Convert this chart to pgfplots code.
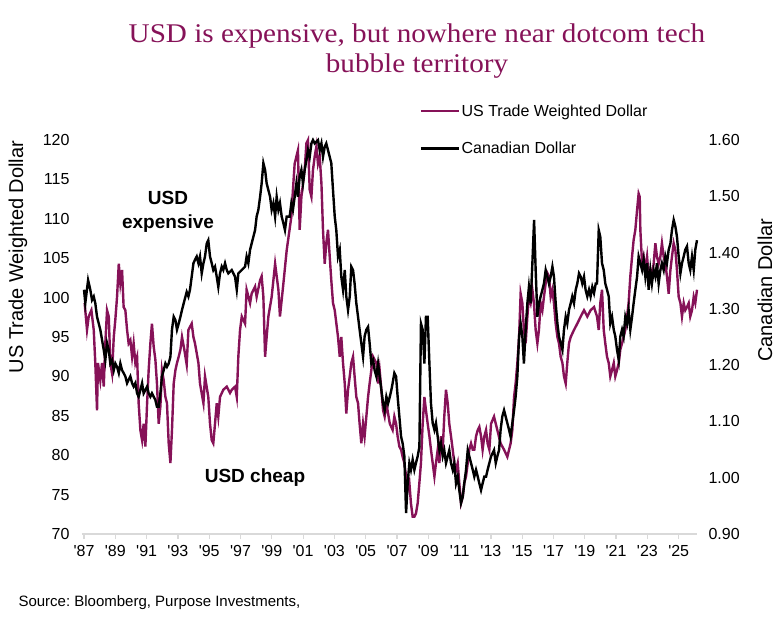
\documentclass[border=0pt]{standalone}
\usepackage{pgfplots}
\pgfplotsset{compat=1.18}
\usepackage{fontspec}
\setmainfont{Liberation Sans}
\newfontfamily\titlefont{Liberation Serif}[FakeStretch=1.08]
\definecolor{usdp}{RGB}{134,18,88}
\definecolor{axgray}{RGB}{217,217,217}
\frenchspacing
\pgfplotstableread{
x y
1987.04 99.3
1987.19 95.9
1987.30 97.6
1987.47 98.4
1987.62 95.9
1987.72 91.7
1987.83 85.7
1987.89 91.7
1988.04 89.5
1988.15 91.7
1988.26 88.7
1988.36 94.2
1988.47 98.4
1988.58 97.6
1988.68 91.7
1988.79 90.4
1988.90 95.0
1989.00 97.2
1989.11 100.1
1989.22 104.3
1989.32 101.8
1989.43 103.5
1989.53 98.8
1989.64 98.4
1989.75 95.9
1989.85 94.2
1989.96 94.6
1990.07 92.5
1990.17 94.2
1990.28 91.7
1990.39 92.5
1990.49 86.6
1990.60 83.2
1990.71 81.9
1990.81 84.0
1990.92 81.1
1991.03 86.6
1991.13 90.8
1991.24 94.2
1991.34 96.7
1991.45 93.8
1991.56 92.1
1991.66 89.1
1991.77 84.0
1991.88 86.2
1991.98 90.8
1992.09 89.5
1992.20 87.4
1992.30 86.6
1992.41 81.5
1992.52 79.0
1992.62 83.2
1992.73 89.1
1992.84 90.8
1992.94 91.7
1993.05 92.5
1993.16 93.4
1993.26 95.0
1993.40 93.5
1993.56 91.5
1993.67 95.9
1993.88 96.7
1993.99 95.0
1994.09 94.2
1994.31 91.7
1994.41 89.1
1994.63 86.6
1994.73 90.0
1994.94 87.4
1995.05 84.0
1995.16 81.9
1995.26 81.5
1995.37 84.0
1995.48 86.6
1995.58 84.9
1995.69 87.4
1995.90 88.3
1996.12 88.7
1996.33 87.9
1996.44 88.3
1996.65 88.7
1996.76 87.4
1996.86 92.5
1996.97 95.9
1997.08 97.6
1997.29 96.7
1997.39 101.0
1997.61 99.3
1997.71 100.5
1997.93 101.4
1998.03 100.1
1998.25 102.2
1998.35 102.7
1998.46 100.1
1998.57 92.5
1998.67 95.0
1998.78 97.6
1998.99 100.1
1999.21 104.3
1999.42 101.0
1999.52 97.6
1999.74 101.8
1999.95 106.0
2000.25 110.3
2000.35 113.7
2000.46 117.0
2000.67 118.7
2000.78 108.6
2000.89 112.8
2001.10 116.2
2001.21 119.6
2001.31 120.0
2001.42 113.7
2001.53 112.8
2001.63 116.2
2001.74 117.9
2001.85 119.2
2001.95 117.0
2002.06 117.9
2002.17 114.5
2002.27 108.6
2002.38 104.3
2002.48 106.9
2002.59 108.6
2002.70 105.2
2002.80 102.2
2002.91 99.3
2003.02 98.4
2003.23 95.0
2003.34 92.5
2003.44 95.0
2003.55 91.7
2003.66 89.1
2003.76 85.3
2003.87 88.3
2003.98 90.0
2004.08 91.7
2004.19 92.5
2004.29 90.0
2004.40 87.4
2004.51 86.6
2004.61 84.0
2004.72 81.5
2004.83 84.0
2004.93 82.4
2005.04 84.9
2005.15 87.4
2005.25 89.1
2005.36 90.8
2005.47 92.5
2005.57 92.1
2005.68 91.7
2005.79 89.1
2005.89 90.8
2006.00 88.3
2006.11 85.7
2006.21 84.9
2006.32 86.6
2006.43 85.3
2006.54 84.0
2006.72 83.2
2006.83 84.9
2006.94 84.0
2007.04 82.4
2007.15 81.1
2007.26 80.7
2007.36 79.8
2007.47 79.0
2007.58 77.3
2007.68 75.6
2007.79 76.5
2007.89 73.9
2008.00 72.2
2008.11 72.2
2008.21 72.6
2008.32 73.9
2008.43 76.5
2008.53 79.0
2008.64 84.0
2008.75 87.4
2008.85 85.7
2008.96 84.0
2009.07 82.4
2009.17 80.7
2009.28 79.0
2009.39 77.3
2009.49 79.0
2009.60 80.7
2009.71 79.0
2009.81 82.4
2009.92 80.7
2010.02 84.9
2010.13 88.3
2010.24 86.6
2010.34 84.0
2010.45 82.4
2010.56 80.7
2010.66 79.0
2010.77 78.1
2010.88 79.0
2010.98 76.5
2011.09 73.9
2011.20 74.7
2011.30 76.5
2011.41 77.3
2011.52 79.0
2011.62 80.7
2011.73 81.5
2011.84 80.7
2011.94 80.7
2012.05 82.4
2012.16 83.2
2012.26 83.6
2012.37 82.4
2012.47 80.7
2012.58 82.4
2012.69 83.2
2012.79 81.5
2012.90 80.7
2013.01 84.0
2013.20 84.9
2013.41 83.2
2013.62 81.5
2013.84 80.7
2014.05 79.8
2014.26 81.5
2014.37 83.2
2014.48 87.4
2014.58 89.1
2014.69 91.7
2014.80 95.0
2014.90 100.5
2015.01 99.3
2015.11 95.9
2015.22 94.2
2015.33 97.6
2015.43 100.1
2015.54 99.3
2015.65 101.0
2015.75 99.3
2015.86 95.9
2015.97 94.2
2016.07 95.9
2016.18 99.3
2016.29 98.4
2016.39 100.1
2016.50 101.8
2016.61 103.1
2016.71 102.7
2016.82 100.1
2016.93 101.0
2017.03 99.3
2017.14 96.7
2017.25 95.0
2017.35 94.2
2017.46 92.5
2017.57 91.7
2017.67 90.0
2017.78 89.1
2017.88 91.7
2017.99 94.2
2018.10 95.0
2018.31 95.9
2018.52 96.7
2018.74 97.6
2018.95 98.4
2019.16 97.6
2019.37 98.4
2019.59 98.8
2019.78 97.6
2019.89 95.9
2019.99 99.3
2020.10 101.0
2020.21 95.9
2020.31 94.2
2020.42 92.5
2020.53 91.7
2020.63 90.0
2020.74 90.8
2020.85 91.7
2020.95 90.0
2021.06 90.8
2021.17 91.7
2021.27 93.4
2021.38 94.2
2021.48 95.0
2021.59 95.9
2021.70 97.6
2021.80 99.3
2021.91 102.7
2022.02 105.2
2022.12 107.3
2022.23 108.6
2022.34 111.1
2022.44 113.2
2022.51 112.8
2022.55 108.6
2022.66 104.3
2022.76 105.2
2022.87 103.5
2022.98 105.2
2023.08 102.7
2023.19 103.5
2023.29 102.7
2023.40 104.3
2023.51 106.9
2023.61 105.2
2023.72 104.3
2023.83 105.2
2023.93 106.9
2024.04 105.2
2024.15 104.3
2024.25 102.7
2024.36 100.5
2024.47 103.5
2024.57 105.2
2024.68 106.9
2024.79 106.0
2024.89 103.5
2025.00 100.1
2025.11 99.3
2025.21 97.6
2025.32 99.3
2025.42 98.4
2025.53 98.8
2025.64 99.3
2025.74 97.6
2025.85 98.4
2025.96 100.1
2026.06 99.3
2026.17 101.0
}\usdtable
\pgfplotstableread{
x y
1987.00 1.334
1987.08 1.310
1987.26 1.351
1987.40 1.334
1987.51 1.316
1987.62 1.322
1987.72 1.310
1987.83 1.286
1987.94 1.274
1988.04 1.263
1988.15 1.245
1988.26 1.227
1988.36 1.209
1988.47 1.239
1988.58 1.227
1988.68 1.203
1988.79 1.209
1988.90 1.191
1989.00 1.203
1989.11 1.197
1989.22 1.186
1989.32 1.203
1989.43 1.191
1989.53 1.186
1989.64 1.180
1989.75 1.168
1989.85 1.174
1989.96 1.180
1990.07 1.168
1990.17 1.162
1990.28 1.168
1990.39 1.150
1990.49 1.144
1990.60 1.156
1990.71 1.168
1990.81 1.150
1990.92 1.156
1991.03 1.162
1991.13 1.150
1991.24 1.144
1991.34 1.150
1991.45 1.144
1991.56 1.138
1991.66 1.126
1991.77 1.126
1991.88 1.150
1991.98 1.180
1992.09 1.191
1992.20 1.203
1992.30 1.197
1992.41 1.203
1992.52 1.215
1992.62 1.263
1992.73 1.286
1992.84 1.280
1992.94 1.263
1993.05 1.274
1993.16 1.286
1993.26 1.298
1993.37 1.310
1993.56 1.330
1993.67 1.322
1993.77 1.334
1993.88 1.357
1993.99 1.381
1994.09 1.387
1994.20 1.393
1994.31 1.381
1994.41 1.393
1994.52 1.363
1994.63 1.381
1994.73 1.393
1994.84 1.416
1994.94 1.422
1995.05 1.393
1995.16 1.381
1995.26 1.369
1995.37 1.375
1995.48 1.357
1995.58 1.339
1995.69 1.363
1995.80 1.375
1995.90 1.369
1996.01 1.381
1996.12 1.369
1996.22 1.363
1996.44 1.369
1996.65 1.357
1996.76 1.334
1996.86 1.363
1997.08 1.369
1997.29 1.375
1997.39 1.393
1997.50 1.381
1997.61 1.405
1997.71 1.416
1997.82 1.428
1997.93 1.440
1998.03 1.464
1998.14 1.476
1998.25 1.499
1998.35 1.523
1998.46 1.559
1998.57 1.547
1998.67 1.523
1998.78 1.511
1998.89 1.499
1998.99 1.476
1999.10 1.488
1999.21 1.464
1999.31 1.499
1999.42 1.476
1999.52 1.488
1999.63 1.464
1999.74 1.452
1999.84 1.440
1999.95 1.464
2000.14 1.464
2000.25 1.488
2000.35 1.476
2000.46 1.499
2000.57 1.523
2000.67 1.499
2000.78 1.535
2000.89 1.547
2000.99 1.523
2001.10 1.547
2001.21 1.564
2001.31 1.582
2001.42 1.570
2001.53 1.594
2001.63 1.600
2001.74 1.594
2001.95 1.600
2002.06 1.582
2002.17 1.594
2002.27 1.570
2002.38 1.588
2002.48 1.594
2002.59 1.582
2002.70 1.570
2002.80 1.559
2002.91 1.511
2003.02 1.464
2003.12 1.440
2003.23 1.393
2003.34 1.405
2003.44 1.357
2003.55 1.334
2003.66 1.369
2003.76 1.322
2003.87 1.298
2003.98 1.322
2004.08 1.375
2004.19 1.369
2004.29 1.345
2004.40 1.310
2004.51 1.286
2004.61 1.263
2004.72 1.239
2004.83 1.215
2004.93 1.251
2005.04 1.263
2005.15 1.268
2005.25 1.239
2005.36 1.203
2005.47 1.209
2005.57 1.191
2005.68 1.180
2005.79 1.203
2005.89 1.180
2006.00 1.156
2006.11 1.132
2006.21 1.120
2006.32 1.144
2006.43 1.132
2006.54 1.144
2006.64 1.156
2006.72 1.168
2006.83 1.186
2006.94 1.180
2007.04 1.144
2007.15 1.109
2007.26 1.073
2007.36 1.061
2007.47 1.038
2007.58 0.937
2007.68 0.990
2007.79 1.026
2007.89 1.014
2008.00 1.032
2008.11 1.014
2008.21 1.026
2008.32 1.038
2008.43 1.055
2008.53 1.274
2008.64 1.263
2008.75 1.203
2008.85 1.286
2008.96 1.286
2009.07 1.203
2009.17 1.132
2009.28 1.097
2009.39 1.085
2009.49 1.097
2009.60 1.073
2009.71 1.049
2009.81 1.061
2009.92 1.038
2010.02 1.049
2010.13 1.026
2010.24 1.038
2010.34 1.049
2010.45 1.026
2010.56 1.014
2010.66 1.026
2010.77 0.990
2010.88 1.002
2010.98 0.978
2011.09 0.955
2011.20 0.966
2011.30 0.990
2011.41 1.014
2011.52 1.049
2011.62 1.038
2011.73 1.026
2011.84 1.014
2011.94 1.002
2012.05 1.014
2012.16 1.002
2012.26 0.990
2012.37 0.978
2012.47 0.990
2012.58 1.002
2012.69 1.002
2012.79 1.014
2012.90 1.026
2013.01 1.038
2013.20 1.049
2013.31 1.026
2013.41 1.038
2013.52 1.049
2013.62 1.085
2013.73 1.109
2013.84 1.120
2013.94 1.109
2014.05 1.097
2014.16 1.085
2014.26 1.073
2014.37 1.097
2014.48 1.120
2014.58 1.144
2014.69 1.180
2014.80 1.251
2014.90 1.274
2015.01 1.251
2015.11 1.203
2015.22 1.263
2015.33 1.310
2015.43 1.339
2015.54 1.310
2015.65 1.381
2015.76 1.458
2015.86 1.369
2015.97 1.286
2016.07 1.310
2016.18 1.322
2016.29 1.334
2016.39 1.345
2016.50 1.369
2016.61 1.357
2016.71 1.345
2016.82 1.357
2016.93 1.375
2017.03 1.357
2017.14 1.310
2017.25 1.274
2017.35 1.251
2017.46 1.239
2017.57 1.227
2017.67 1.263
2017.78 1.286
2017.88 1.274
2017.99 1.298
2018.10 1.310
2018.20 1.322
2018.31 1.310
2018.42 1.334
2018.52 1.345
2018.63 1.363
2018.74 1.357
2018.84 1.345
2018.95 1.357
2019.05 1.334
2019.16 1.322
2019.27 1.334
2019.37 1.322
2019.48 1.339
2019.59 1.328
2019.70 1.345
2019.78 1.345
2019.89 1.440
2019.99 1.428
2020.10 1.381
2020.21 1.369
2020.31 1.345
2020.42 1.334
2020.53 1.322
2020.63 1.274
2020.74 1.286
2020.85 1.263
2020.95 1.251
2021.06 1.227
2021.17 1.209
2021.27 1.251
2021.38 1.263
2021.48 1.251
2021.59 1.286
2021.70 1.274
2021.80 1.298
2021.91 1.263
2022.02 1.286
2022.12 1.310
2022.23 1.334
2022.34 1.357
2022.44 1.393
2022.55 1.381
2022.66 1.369
2022.76 1.387
2022.87 1.357
2022.98 1.381
2023.08 1.334
2023.19 1.369
2023.29 1.345
2023.40 1.369
2023.51 1.357
2023.61 1.381
2023.72 1.345
2023.83 1.369
2023.93 1.381
2024.04 1.369
2024.15 1.393
2024.25 1.381
2024.36 1.405
2024.47 1.416
2024.57 1.440
2024.68 1.458
2024.79 1.446
2024.89 1.428
2025.00 1.393
2025.11 1.363
2025.21 1.381
2025.32 1.393
2025.42 1.405
2025.53 1.411
2025.64 1.381
2025.74 1.369
2025.85 1.393
2025.96 1.369
2026.06 1.405
2026.17 1.422
}\cadtable
\begin{document}
\begin{tikzpicture}
\useasboundingbox (0,0) rectangle (780pt,-632pt);
\node[font=\titlefont\fontsize{27}{30}\selectfont, text=usdp, align=center] at (417pt,-51pt) {USD is expensive, but nowhere near dotcom tech\\bubble territory};
\begin{axis}[
  at={(82pt,-534pt)}, anchor=south west, scale only axis,
  width=615pt, height=394pt,
  xmin=1986.87, xmax=2026.17, ymin=70, ymax=120,
  axis x line*=bottom, axis y line*=left,
  x axis line style={draw=axgray, line width=1.3pt, -},
  y axis line style={draw=none},
  xtick={1987,1989,...,2025},
  xticklabels={\textquotesingle87,\textquotesingle89,\textquotesingle91,\textquotesingle93,\textquotesingle95,\textquotesingle97,\textquotesingle99,\textquotesingle01,\textquotesingle03,\textquotesingle05,\textquotesingle07,\textquotesingle09,\textquotesingle11,\textquotesingle13,\textquotesingle15,\textquotesingle17,\textquotesingle19,\textquotesingle21,\textquotesingle23,\textquotesingle25},
  ytick={70,75,...,120},
  tick align=outside, major tick length=5pt,
  x tick style={draw=axgray, line width=1.2pt},
  y tick style={draw=none},
  tick label style={font=\fontsize{16}{18}\selectfont},
  xticklabel style={yshift=-3pt},
  yticklabel style={xshift=-4pt},
  /pgf/number format/assume math mode=true,
  clip=false,
]
\addplot[usdp, line width=2.4pt] table[x=x,y=y] {\usdtable};
\end{axis}
\begin{axis}[
  at={(82pt,-534pt)}, anchor=south west, scale only axis,
  width=615pt, height=394pt,
  xmin=1986.87, xmax=2026.17, ymin=0.9, ymax=1.6,
  axis x line=none, axis y line*=right,
  y axis line style={draw=none},
  ytick={0.9,1.0,1.1,1.2,1.3,1.4,1.5,1.6},
  y tick style={draw=none}, major tick length=0pt,
  yticklabel style={xshift=8pt, /pgf/number format/.cd, fixed, fixed zerofill, precision=2},
  tick label style={font=\fontsize{16}{18}\selectfont},
  /pgf/number format/assume math mode=true,
  legend style={at={(0.5488,1.094)}, anchor=north west, draw=none, fill=none,
    inner sep=0pt, row sep=21pt, nodes={inner sep=1.5pt},
    font=\fontsize{16}{18}\selectfont},
  legend cell align=left,
  legend image code/.code={\draw[#1] (0pt,0pt) -- (38pt,0pt);},
  clip=false,
]
\addlegendimage{usdp, line width=2.4pt}
\addlegendentry{US Trade Weighted Dollar}
\addplot[black, line width=2.4pt] table[x=x,y=y] {\cadtable};
\addlegendentry{Canadian Dollar}
\end{axis}
\node[rotate=90, font=\fontsize{20}{22}\selectfont] at (18pt,-257pt) {US Trade Weighted Dollar};
\node[rotate=90, font=\fontsize{20}{22}\selectfont] at (765pt,-290pt) {Canadian Dollar};
\node[font=\bfseries\fontsize{19}{24}\selectfont, align=center] at (168pt,-212pt) {USD\\expensive};
\node[font=\bfseries\fontsize{19}{22}\selectfont] at (255pt,-478pt) {USD cheap};
\node[anchor=west, font=\fontsize{15}{17}\selectfont] at (15pt,-603pt) {Source: Bloomberg, Purpose Investments,};
\end{tikzpicture}
\end{document}
